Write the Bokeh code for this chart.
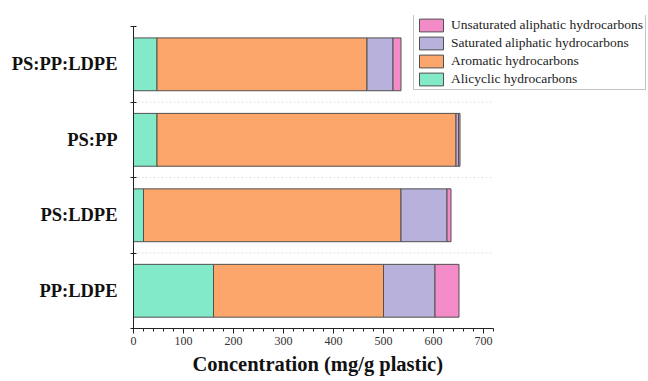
from bokeh.plotting import figure
from bokeh.models import (Range1d, FixedTicker, SingleIntervalTicker, Legend, LegendItem, Title)
from bokeh.embed import file_html
from bokeh.resources import INLINE

# Plastic blends, listed bottom to top
categories = ["PP:LDPE", "PS:LDPE", "PS:PP", "PS:PP:LDPE"]

# Concentration by compound class (mg/g plastic)
alicyclic = [160, 20, 47, 47]
aromatic = [340, 515, 598, 420]
saturated = [103, 92, 5, 52]
unsaturated = [48, 8, 3, 16]

series = ["alicyclic", "aromatic", "saturated", "unsaturated"]
series_labels = ["Alicyclic hydrocarbons", "Aromatic hydrocarbons",
                 "Saturated aliphatic hydrocarbons", "Unsaturated aliphatic hydrocarbons"]
colors = ["#82E9C9", "#FCA66C", "#B7B1DB", "#F38BC8"]

X_MAX = 720          # end of the concentration axis
n = len(categories)

ypos = [i + 0.5 for i in range(n)]
source = dict(y=ypos, alicyclic=alicyclic, aromatic=aromatic,
              saturated=saturated, unsaturated=unsaturated)

SERIF = "Liberation Serif"

# The frame reaches the right and top edges so the legend has room;
# the axes are bounded to the data extent.
p = figure(width=648, height=381, output_backend="svg", toolbar_location=None,
           x_range=Range1d(0, 1030), y_range=Range1d(0, 4.147),
           min_border_left=133, min_border_right=0,
           min_border_top=15, min_border_bottom=53)
p.outline_line_color = None
p.background_fill_color = "white"

# faint dotted separators between the rows
sep = list(range(1, n))
p.segment(x0=[0] * len(sep), x1=[X_MAX] * len(sep), y0=sep, y1=sep,
          line_color="#e2e2e2", line_dash="2 2", line_width=1)

renderers = p.hbar_stack(series, y="y", height=0.7, source=source,
                         fill_color=colors, line_color="#505050", line_width=1)

# category axis: labels at bar centres, ticks on boundaries
yax = p.yaxis[0]
yax.bounds = (0, n)
yax.ticker = FixedTicker(ticks=ypos, minor_ticks=list(range(n + 1)))
yax.major_label_overrides = {y: c for y, c in zip(ypos, categories)}
yax.major_tick_in = 0
yax.major_tick_out = 0
yax.minor_tick_in = 3
yax.minor_tick_out = 3
yax.major_label_standoff = 13
yax.major_label_text_font = SERIF
yax.major_label_text_font_style = "bold"
yax.major_label_text_font_size = "18.5px"
yax.major_label_text_color = "#111111"
yax.axis_line_color = "#222222"
yax.minor_tick_line_color = "#222222"

xax = p.xaxis[0]
xax.bounds = (0, X_MAX)
xax.ticker = SingleIntervalTicker(interval=100, num_minor_ticks=5)
xax.major_tick_in = 0
xax.major_tick_out = 5
xax.minor_tick_in = 0
xax.minor_tick_out = 3
xax.major_label_standoff = 3
xax.major_label_text_font = SERIF
xax.major_label_text_font_size = "12px"
xax.major_label_text_color = "#333333"
xax.axis_line_color = "#222222"
xax.major_tick_line_color = "#222222"
xax.minor_tick_line_color = "#222222"

p.xgrid.grid_line_color = None
p.ygrid.grid_line_color = None

# x-axis title, placed under the bounded axis
xtitle = Title(text="Concentration (mg/g plastic)", align="left", offset=59,
               standoff=6, text_font=SERIF, text_font_style="bold",
               text_font_size="20.5px", text_color="#111111")
p.add_layout(xtitle, "below")

items = [LegendItem(label=lab, renderers=[r])
         for lab, r in zip(series_labels, renderers)][::-1]
legend = Legend(items=items, location=(280, 238),
                glyph_width=30, glyph_height=16, label_height=16,
                label_standoff=5, spacing=2, padding=2, margin=0,
                label_text_font=SERIF, label_text_font_size="13.5px",
                label_text_color="#222222",
                border_line_color="#8a8a8a", border_line_width=1,
                background_fill_alpha=1)
p.add_layout(legend)

open("out.html", "w").write(file_html(p, INLINE))
